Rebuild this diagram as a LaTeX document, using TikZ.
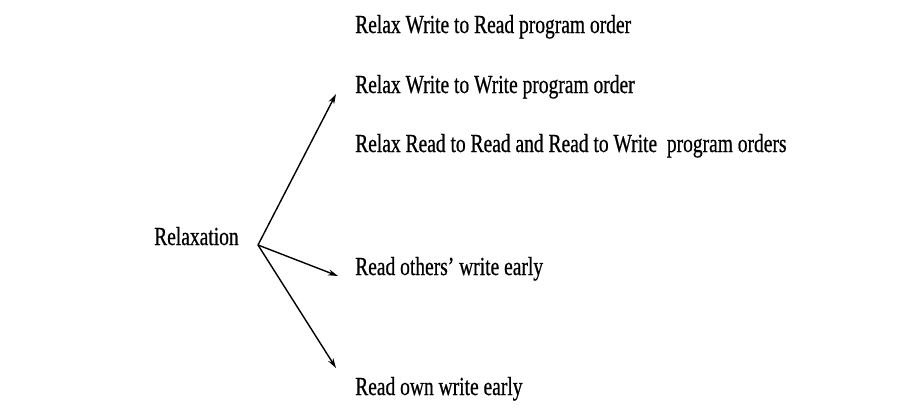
\documentclass[tikz,border=0pt]{standalone}
\usepackage{fontspec}
\newfontfamily\slidefont[FakeStretch=0.75,FakeBold=0.6]{Liberation Serif}
\usetikzlibrary{arrows.meta}

\begin{document}
\begin{tikzpicture}[x=1pt,y=-1pt,
    lbl/.style={anchor=base west,inner sep=0pt,font=\slidefont\fontsize{26}{30}\selectfont},
    arr/.style={line width=1.4pt,-{Stealth[length=10pt,width=6pt]}}]
        \useasboundingbox (0,0) rectangle (922,408);

        \node[lbl] (relax) at (154,245) {Relaxation};
        \coordinate (fork) at (258,245);

        \node[lbl] (wr) at (355,33) {Relax Write to Read program order};
        \node[lbl] (ww) at (355,93) {Relax Write to Write program order};
        \node[lbl] (rr) at (355,152) {Relax Read to Read and Read to Write\ \ program orders};
        \node[lbl] (others) at (355,275) {Read others’ write early};
        \node[lbl] (own) at (355,395) {Read own write early};

        \coordinate (toporder) at (336,94);
        \coordinate (toothers) at (338,276);
        \coordinate (toown) at (336,368);

        \draw[arr] (fork) -- (toporder);
        \draw[arr] (fork) -- (toothers);
        \draw[arr] (fork) -- (toown);
    \end{tikzpicture}
\end{document}
